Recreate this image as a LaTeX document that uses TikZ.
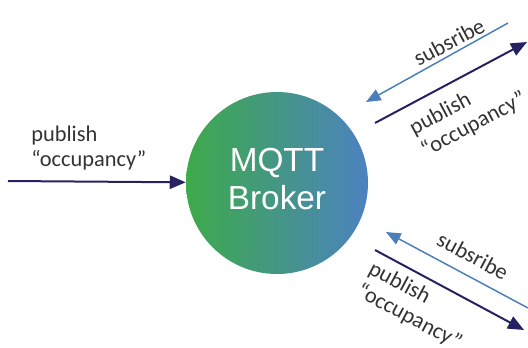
\documentclass[tikz,border=0pt]{standalone}
\usepackage{fontspec}
\setmainfont{Carlito}
\newfontfamily\brokerfont{Liberation Sans}
\usetikzlibrary{arrows.meta}
\definecolor{navy}{RGB}{38,34,98}
\definecolor{subblue}{RGB}{74,126,187}
\definecolor{brokergreen}{RGB}{61,170,74}
\definecolor{brokerteal}{RGB}{58,156,108}
\definecolor{brokerblue}{RGB}{76,130,192}

\begin{document}
\begin{tikzpicture}[x=0.75pt,y=-0.75pt,
    pub/.style={draw=navy,line width=1.5pt,-{Triangle[length=12pt,width=10pt]}},
    sub/.style={draw=subblue,line width=1.1pt,-{Triangle[length=11pt,width=9pt]}},
    lbl/.style={font=\fontsize{16.8}{19}\selectfont,text=black!80,align=left,inner sep=0pt}]
    \useasboundingbox (0,0) rectangle (528,347);
    \node[circle,minimum size=136.5pt,inner sep=0pt,
        left color=brokergreen,middle color=brokerteal,right color=brokerblue] (broker) at (277,183) {};
    \node[align=center,text=white,font=\brokerfont\fontsize{25}{29}\selectfont] (brokertxt) at (277,179) {MQTT\\Broker};
    \coordinate (in) at (8,181);
    \coordinate (subA) at (508,23);
    \coordinate (subAend) at (366,102);
    \coordinate (pubA) at (375,123);
    \coordinate (pubAend) at (527,42);
    \coordinate (subB) at (528,308);
    \coordinate (subBend) at (386,232);
    \coordinate (pubB) at (375,250);
    \coordinate (pubBend) at (524,330);
    \draw[pub] (in) -- (broker);
    \draw[sub] (subA) -- (subAend);
    \draw[pub] (pubA) -- (pubAend);
    \draw[sub] (subB) -- (subBend);
    \draw[pub] (pubB) -- (pubBend);
    \node[lbl,anchor=west] (pubtxt) at (31,148) {publish\\“occupancy”};
    \node[lbl,rotate=28] (subtxtA) at (449,42) {subsribe};
    \node[lbl,rotate=28] (pubtxtA) at (468,114) {publish\\“occupancy”};
    \node[lbl,rotate=-28] (subtxtB) at (473,256) {subsribe};
    \node[lbl,rotate=-28] (pubtxtB) at (415,306) {publish\\“occupancy”};
\end{tikzpicture}
\end{document}
